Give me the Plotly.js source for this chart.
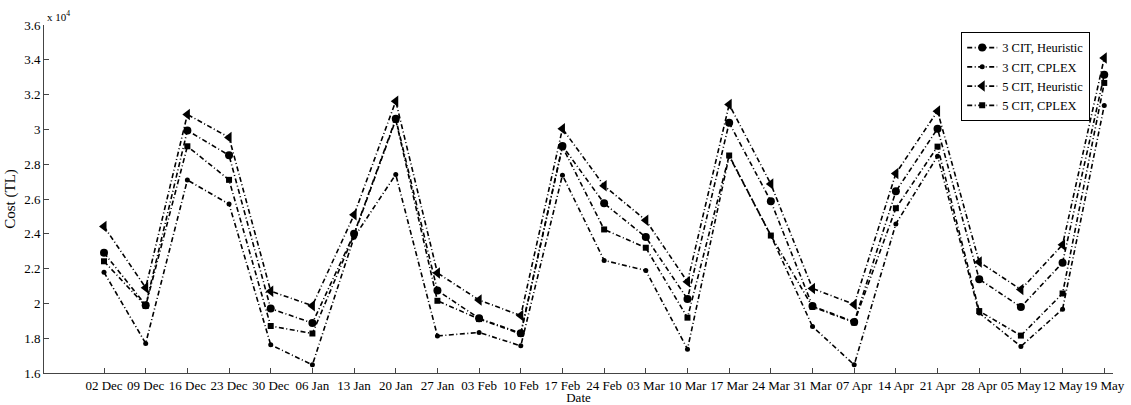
<!DOCTYPE html>
<html>
<head>
<meta charset="utf-8">
<script src="https://cdn.plot.ly/plotly-3.0.1.min.js"></script>
<style>
  html, body { margin: 0; padding: 0; background: #fff; }
  #chart { width: 1131px; height: 405px; }
</style>
</head>
<body>
<div id="chart"></div>
<script>
// Week labels (x categories)
const dates = ["02 Dec","09 Dec","16 Dec","23 Dec","30 Dec","06 Jan","13 Jan","20 Jan","27 Jan",
  "03 Feb","10 Feb","17 Feb","24 Feb","03 Mar","10 Mar","17 Mar","24 Mar","31 Mar","07 Apr",
  "14 Apr","21 Apr","28 Apr","05 May","12 May","19 May"];

// Cost (TL) per series
const cit3Heuristic = [22910,19900,29940,28510,19700,18870,24000,30610,20740,19140,18290,29050,25750,
  23810,20250,30380,25870,19850,18930,26440,30040,21390,19790,22340,33140];
const cit3Cplex = [21790,17700,27090,25710,17620,16470,23800,27410,18130,18330,17560,27370,22470,
  21890,17370,28470,23900,18670,16470,24570,28460,19450,17530,19670,31370];
const cit5Heuristic = [24420,20900,30860,29540,20700,19870,25090,31620,21750,20190,19300,30040,26760,
  24780,21240,31430,26860,20860,19940,27470,31050,22380,20800,23370,34100];
const cit5Cplex = [22420,19850,29030,27100,18700,18270,23950,30550,20150,19100,18250,29000,24250,
  23200,19180,28500,23900,19800,18900,25470,29010,19560,18150,20570,32670];

// Y tick values (TL) and their labels (x 10^4)
const yTickVals = [16000,18000,20000,22000,24000,26000,28000,30000,32000,34000,36000];
const yTickText = ["1.6","1.8","2","2.2","2.4","2.6","2.8","3","3.2","3.4","3.6"];

const FONT = "Liberation Serif, Times New Roman, serif";
const DASH = "5px,2.5px,1px,2.5px";

function series(name, y, symbol, size) {
  return {
    type: "scatter", mode: "lines+markers", name: name,
    x: dates, y: y,
    line: { color: "#000", width: 1.6, dash: DASH },
    marker: { symbol: symbol, size: size, color: "#000", line: { width: 0 } }
  };
}

const data = [
  series("3 CIT, Heuristic", cit3Heuristic, "circle", 8),
  series("3 CIT, CPLEX", cit3Cplex, "circle", 5),
  series("5 CIT, Heuristic", cit5Heuristic, "triangle-left", 10),
  series("5 CIT, CPLEX", cit5Cplex, "square", 6)
];

const layout = {
  width: 1131, height: 405,
  margin: { l: 44, r: 18, t: 25, b: 32 },
  paper_bgcolor: "#fff", plot_bgcolor: "#fff",
  font: { family: FONT, size: 13, color: "#000" },
  showlegend: true,
  legend: {
    x: 0.858, xanchor: "left", y: 0.98, yanchor: "top",
    bgcolor: "#fff", bordercolor: "#000", borderwidth: 1,
    font: { family: FONT, size: 12.5, color: "#000" },
    itemwidth: 30, tracegroupgap: 0
  },
  xaxis: {
    type: "category",
    range: [-1.44, 24.21],
    showline: true, linecolor: "#444", linewidth: 1,
    ticks: "inside", ticklen: 5, tickcolor: "#444",
    showgrid: false, zeroline: false,
    tickfont: { family: FONT, size: 13, color: "#000" },
    tickangle: 0,
    title: { text: "Date", font: { family: FONT, size: 13, color: "#000" }, standoff: 2 }
  },
  yaxis: {
    range: [16000, 36000],
    tickvals: yTickVals, ticktext: yTickText,
    showline: true, linecolor: "#444", linewidth: 1,
    ticks: "inside", ticklen: 5, tickcolor: "#444",
    showgrid: false, zeroline: false,
    tickfont: { family: FONT, size: 13, color: "#000" },
    title: { text: "Cost (TL)", font: { family: FONT, size: 15, color: "#000" }, standoff: 4 }
  },
  annotations: [{
    xref: "paper", yref: "paper", x: 0, y: 1, xanchor: "left", yanchor: "bottom",
    text: "x 10<sup>4</sup>", showarrow: false, xshift: 1,
    font: { family: FONT, size: 11, color: "#000" }
  }]
};

Plotly.newPlot("chart", data, layout, { displayModeBar: false, staticPlot: true });
</script>
</body>
</html>
